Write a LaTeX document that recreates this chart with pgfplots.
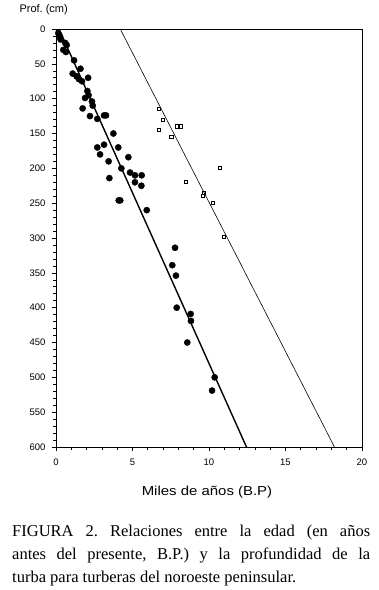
\documentclass[border=0pt]{standalone}
\usepackage{fontspec}
\setmainfont{Liberation Serif}
\setsansfont{Liberation Sans}
\usepackage{pgfplots}
\pgfplotsset{compat=1.18}
\frenchspacing
\begin{document}
\begin{tikzpicture}
\useasboundingbox (-56pt,-143pt) rectangle (323pt,447pt);
\begin{axis}[
  at={(0pt,0pt)}, anchor=south west,
  scale only axis, width=306pt, height=418pt,
  xmin=0, xmax=20, ymin=0, ymax=600, y dir=reverse,
  xtick={0,5,...,20}, minor xtick={1,2,3,4,6,7,8,9,11,12,13,14,16,17,18,19},
  ytick={0,50,...,600}, minor ytick={10,20,...,590},
  tick align=outside, xtick pos=left, ytick pos=left,
  xticklabel pos=left, yticklabel pos=left,
  major tick length=4pt, minor tick length=3pt,
  tick style={black, line width=0.6pt},
  axis line style={line width=0.8pt},
  ticklabel style={font=\sffamily\fontsize{9.5}{11}\selectfont},
  xticklabel style={yshift=-4pt},
  yticklabel style={xshift=-3pt},
  /pgf/number format/assume math mode=true,
]
\addplot[only marks, mark=*, mark size=3.1pt, black] coordinates {
(0.15,6) (0.26,11) (0.3,15) (0.6,20) (0.7,23) (0.48,30) (0.65,33) (1.18,45)
(1.6,57) (1.09,64) (1.35,68) (1.5,72) (1.7,75) (2.1,70) (2.05,89) (2.13,95)
(1.9,99) (2.35,104) (2.4,110) (1.74,114) (2.22,125) (2.7,129) (3.14,124) (3.27,124)
(3.75,150) (2.7,170) (3.14,166) (4.07,170) (2.88,180) (3.44,190) (4.27,200) (4.73,184)
(4.84,206) (5.16,210) (5.6,210) (5.16,220) (5.58,225) (3.49,214) (4.1,246) (4.2,246)
(5.93,260) (7.78,314) (7.6,339) (7.84,354) (7.89,400) (8.8,409) (8.82,419) (8.58,450)
(10.37,500) (10.2,519)
};
\addplot[only marks, mark=square, mark size=1.6pt, black, line width=0.9pt] coordinates {
(6.73,115) (7.0,130) (6.71,145) (7.89,140) (8.15,140) (7.54,155) (10.72,200) (8.5,220)
(9.67,235) (9.63,240) (10.28,250) (10.98,299)
};
\addplot[black, line width=1.4pt] coordinates {(0.2,0) (12.45,600)};
\addplot[black, line width=0.6pt] coordinates {(4.2,0) (18.2,600)};
\end{axis}
\node[anchor=west, font=\sffamily\fontsize{11}{13}\selectfont] at (-40pt,437pt) {Prof. (cm)};
\node[font=\sffamily\fontsize{13}{15}\selectfont, xscale=1.15] at (151pt,-45pt) {Miles de años (B.P)};
\begin{scope}[every node/.style={anchor=base west, inner sep=0pt, font=\fontsize{16.5}{20}\selectfont}]
\node at (-44pt,-89pt) {\makebox[358pt][s]{FIGURA 2. Relaciones entre la edad (en años}};
\node at (-44pt,-112pt) {\makebox[358pt][s]{antes del presente, B.P.) y la profundidad de la}};
\node at (-44pt,-135pt) {turba para turberas del noroeste peninsular.};
\end{scope}
\end{tikzpicture}
\end{document}
